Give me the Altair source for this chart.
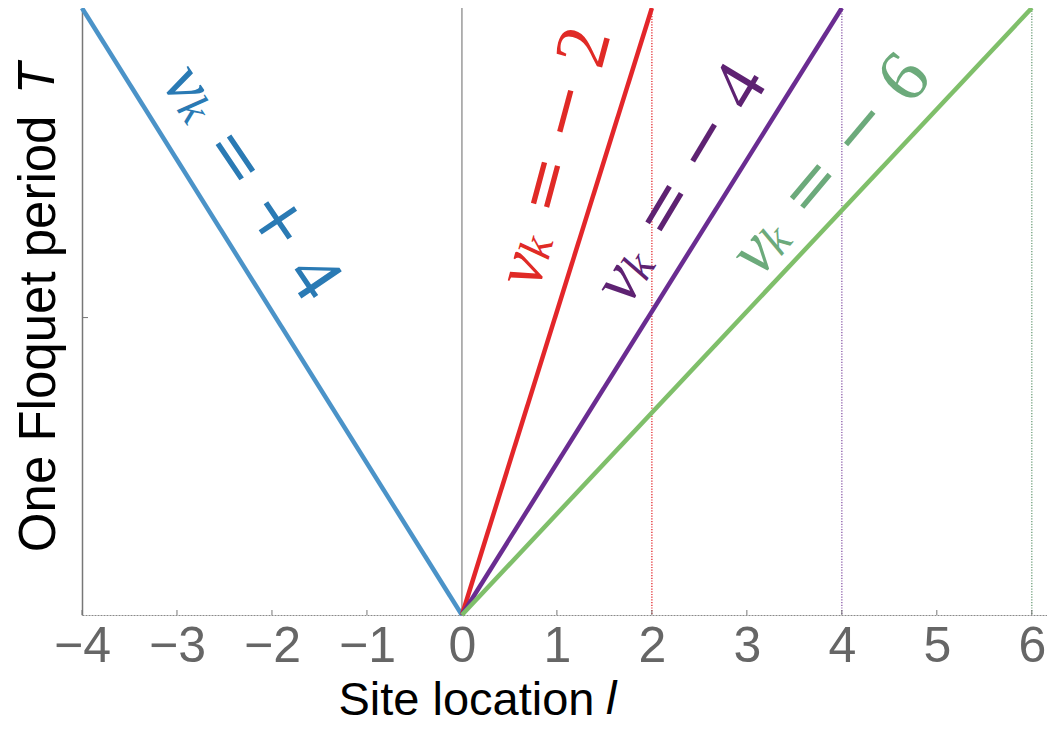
import altair as alt
import pandas as pd

# ---- data ----
series = ["+4", "-2", "-4", "-6"]
line_end_x = [-4, 2, 4, 6]          # site reached after one Floquet period
line_colors = ["#4B93C8", "#E3262A", "#6A2C91", "#7FBF6A"]
label_colors = ["#2A7AB4", "#E02A26", "#5E2272", "#6CAA7B"]
label_signs = ["+", "\u2212", "\u2212", "\u2212"]
label_digits = ["4", "2", "4", "6"]
label_x = [-2.82, 0.67, 1.72, 3.16]
label_y = [0.857, 0.59, 0.565, 0.612]
label_angle = [56, 285, 301, 310]
guide_x = [2, 4, 6]
guide_colors = ["#E3262A", "#8A5AA8", "#6E9E7A"]
x_ticks = [-4, -3, -2, -1, 0, 1, 2, 3, 4, 5, 6]
y_ticks = [0.49]

rows = []
for s, xe, c in zip(series, line_end_x, line_colors):
    rows.append({"s": s, "x": 0, "y": 0, "c": c, "o": 0})
    rows.append({"s": s, "x": xe, "y": 1, "c": c, "o": 1})
lines_df = pd.DataFrame(rows)

lab_df = pd.DataFrame({
    "s": series, "x": label_x, "y": label_y, "a": label_angle, "c": label_colors,
    "nu": ["\u03bd"] * 4, "k": ["k"] * 4, "eq": ["="] * 4,
    "sign": label_signs, "digit": label_digits,
})
guide_df = pd.DataFrame({"x": guide_x, "c": guide_colors})
xt_df = pd.DataFrame({"x": x_ticks})
yt_df = pd.DataFrame({"y": y_ticks})

W, H = 965, 607
xs = alt.Scale(domain=[-4, 6.16], nice=False, zero=False)
ys = alt.Scale(domain=[0, 1], nice=False, zero=False)

X = alt.X("x:Q", scale=xs, axis=alt.Axis(
    values=x_ticks, format="d", ticks=False, grid=False, labelFontSize=50,
    labelColor="#666666", labelOverlap=False,
    labelFont="Liberation Sans", labelPadding=6, domainColor="#8a8a8a", domainWidth=1.2,
    domainDash=[2, 1], labelFlush=False,
    title="Site location", titleFontSize=47, titleFont="Liberation Sans",
    titleFontWeight="normal", titleColor="#000000", titleBaseline="alphabetic",
    titleAlign="right", titleX=512, titleY=99, titleAnchor="start"))
Y = alt.Y("y:Q", scale=ys, axis=alt.Axis(
    values=y_ticks, ticks=False, labels=False, grid=False, domainColor="#777777",
    domainWidth=1.5,
    title="One Floquet period", titleFontSize=51, titleFont="Liberation Sans",
    titleFontWeight="normal", titleColor="#000000", titleAngle=270,
    titleBaseline="alphabetic", titleAlign="right", titleX=-28, titleY=107,
    titleAnchor="start"))

XN = lambda f="x:Q": alt.X(f, scale=xs)
YN = lambda f="y:Q": alt.Y(f, scale=ys)

base_axes = alt.Chart(lines_df).mark_line(opacity=0).encode(x=X, y=Y, detail="s:N")

# italic variable symbols that end the two axis titles
x_sym = alt.Chart(pd.DataFrame({"t": ["l"]})).mark_text(
    align="left", baseline="alphabetic", fontSize=47, font="Liberation Sans",
    fontStyle="italic", color="#000000").encode(
    text="t:N", x=alt.value(524), y=alt.value(H + 99))
y_sym = alt.Chart(pd.DataFrame({"t": ["T"]})).mark_text(
    align="left", baseline="alphabetic", fontSize=51, font="Liberation Sans",
    fontStyle="italic", color="#000000", angle=270).encode(
    text="t:N", x=alt.value(-28), y=alt.value(86))

zero_line = alt.Chart(pd.DataFrame({"x": [0]})).mark_rule(
    color="#9a9a9a", strokeWidth=1.5).encode(
    x=XN(), y=alt.value(0), y2=alt.value(H))

guides = alt.Chart(guide_df).mark_rule(strokeWidth=1.3, strokeDash=[1.2, 1.5]).encode(
    x=XN(), y=alt.value(0), y2=alt.value(H),
    color=alt.Color("c:N", scale=None))

xticks = alt.Chart(xt_df).mark_rule(color="#777777", strokeWidth=1).encode(
    x=XN(), y=alt.value(H - 5), y2=alt.value(H))
yticks = alt.Chart(yt_df).mark_rule(color="#777777", strokeWidth=1).encode(
    y=YN(), x=alt.value(0), x2=alt.value(6))

lines = alt.Chart(lines_df).mark_line(strokeWidth=4.5).encode(
    x=XN(), y=YN(), order="o:Q",
    detail="s:N", color=alt.Color("c:N", scale=None))


def lab(field, dx, dy, size, font, style):
    return alt.Chart(lab_df).mark_text(
        align="center", baseline="middle", dx=dx, dy=dy, fontSize=size,
        font=font, fontStyle=style).encode(
        x=XN(), y=YN(),
        angle=alt.Angle("a:Q", scale=None),
        color=alt.Color("c:N", scale=None), text=f"{field}:N")


labels = [
    lab("nu", -13, 0, 70, "Liberation Serif", "italic"),
    lab("k", 12, 9, 46, "Liberation Serif", "italic"),
    lab("eq", 75, 2, 68, "DejaVu Serif", "normal"),
    lab("sign", 151, 2, 68, "DejaVu Serif", "normal"),
    lab("digit", 218, 3, 74, "Liberation Serif", "normal"),
]

chart = alt.layer(base_axes, zero_line, guides, xticks, yticks, lines,
                  x_sym, y_sym, *labels).properties(
    width=W, height=H, background="white",
    autosize=alt.AutoSizeParams(type="none"),
    padding={"left": 74, "top": 0, "right": 0, "bottom": 109},
).configure_view(stroke="transparent", strokeWidth=0)

chart.save("out.html", embed_options={"renderer": "svg", "actions": False})
